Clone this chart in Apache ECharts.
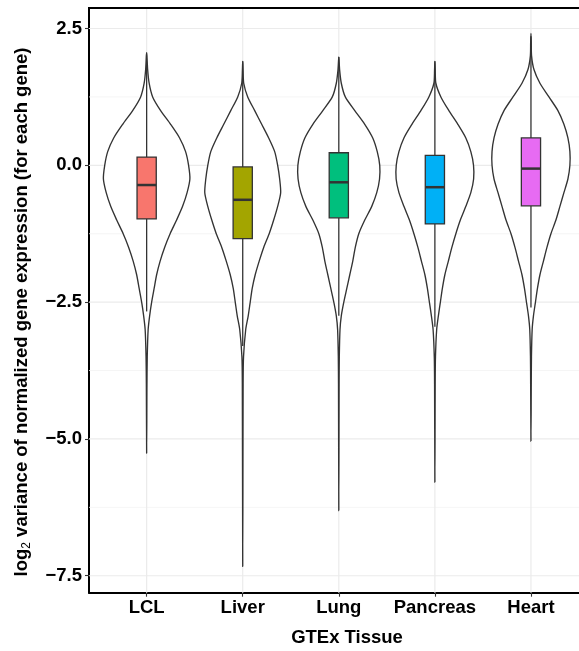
<!DOCTYPE html>
<html>
<head>
<meta charset="utf-8">
<title>GTEx tissue variance</title>
<script src="https://cdn.jsdelivr.net/npm/echarts@6/dist/echarts.min.js"></script>
<style>
  html, body { margin: 0; padding: 0; background: #fff; }
  #chart { width: 579px; height: 651px; }
</style>
</head>
<body>
<div id="chart"></div>
<script>
// categories and box colours (ggplot hue palette)
const tissues = ['LCL', 'Liver', 'Lung', 'Pancreas', 'Heart']
const boxColors = ['#F8766D', '#A3A500', '#00BF7D', '#00B0F6', '#E76BF3']

// boxplot stats
const q1 = [-0.98, -1.34, -0.96, -1.07, -0.74]
const medians = [-0.36, -0.63, -0.31, -0.40, -0.06]
const q3 = [0.15, -0.03, 0.23, 0.18, 0.50]
const whiskerLow = [-2.67, -3.30, -2.75, -2.95, -2.60]
const whiskerHigh = [1.85, 1.90, 1.98, 1.90, 2.36]
const minValues = [-5.26, -7.33, -6.31, -5.79, -5.04]
const maxValues = [2.06, 1.90, 1.98, 1.90, 2.41]

// violin density (relative), sampled at these y levels
const yLevels = [2.25, 2.0, 1.75, 1.5, 1.25, 1.0, 0.75, 0.5, 0.25, 0, -0.25, -0.5, -0.75, -1.0, -1.25, -1.5, -1.75, -2.0, -2.25, -2.5, -2.75, -3.0, -3.5, -4.0]
const densityLCL = [null, 0.3, 1, 2.5, 6, 14, 24, 33, 39, 42, 43.3, 40.5, 36, 30, 23.5, 18, 13.5, 10, 7.5, 5, 3, 1.5, 0.6, 0.3]
const densityLiver = [null, null, 0.3, 1, 5, 12, 19, 26, 32, 35, 37, 38, 35, 31, 26.5, 21, 16.5, 12.5, 9.5, 7.5, 5.5, 3, 0.8, 0.4]
const densityLung = [null, null, 0.8, 2.5, 6.5, 16, 26, 34, 38.5, 41, 40.8, 38, 33, 26, 20, 16.5, 14, 11, 8, 5, 2.5, 1.2, 0.5, 0.3]
const densityPancreas = [null, null, 0.3, 1, 6, 14, 23, 31, 36, 38.7, 38.8, 36, 31, 25.5, 21, 17, 13.5, 10, 7.5, 5.5, 3.5, 1.8, 0.6, 0.3]
const densityHeart = [0.3, 0.6, 3, 9, 18, 27, 33, 37, 39, 39, 37, 33, 29, 25, 20, 16, 12.5, 9, 6.5, 4.5, 2.5, 1.2, 0.5, 0.3]
const densities = [densityLCL, densityLiver, densityLung, densityPancreas, densityHeart]

// axis ticks
const yTicks = [-7.5, -5.0, -2.5, 0.0, 2.5]
const yMinorTicks = [-6.25, -3.75, -1.25, 1.25]
const xTicks = [1, 2, 3, 4, 5]

const densityScale = 0.45 / 43.3 // widest violin gets half-width 0.45
const boxHalf = 0.1
// the panel runs on past the right edge of the picture (ggplot's 0.4..5.6 is cut at ~5.5)
const xMin = 0.4, xMax = 5.5, yMin = -7.81, yMax = 2.875
const FONT = '"Liberation Sans", Arial, Helvetica, sans-serif'
const INK = '#333333'
const SIZE = 18.5

function violinPoints(api, i) {
  const x = i + 1
  const right = [[x, maxValues[i]]]
  yLevels.forEach((y, k) => {
    const d = densities[i][k]
    if (d == null || y >= maxValues[i] || y <= minValues[i]) return
    right.push([x + d * densityScale, y])
  })
  right.push([x, minValues[i]])
  const left = right.slice(1, -1).reverse().map(p => [2 * x - p[0], p[1]])
  return right.concat(left).map(p => api.coord(p))
}

function renderGrid(params, api) {
  const children = []
  yMinorTicks.forEach(v => {
    const a = api.coord([xMin, v]), b = api.coord([xMax, v])
    children.push({type: 'line', shape: {x1: a[0], y1: a[1], x2: b[0], y2: b[1]},
      style: {stroke: '#f2f2f2', lineWidth: 0.8}})
  })
  yTicks.forEach(v => {
    const a = api.coord([xMin, v]), b = api.coord([xMax, v])
    children.push({type: 'line', shape: {x1: a[0], y1: a[1], x2: b[0], y2: b[1]},
      style: {stroke: '#ebebeb', lineWidth: 1.2}})
  })
  xTicks.forEach(v => {
    const a = api.coord([v, yMin]), b = api.coord([v, yMax])
    children.push({type: 'line', shape: {x1: a[0], y1: a[1], x2: b[0], y2: b[1]},
      style: {stroke: '#ebebeb', lineWidth: 1.2}})
  })
  return {type: 'group', children: children}
}

function renderViolin(params, api) {
  const i = params.dataIndex
  const x = i + 1
  const top = api.coord([x - boxHalf, q3[i]])
  const bot = api.coord([x + boxHalf, q1[i]])
  const med = api.coord([x, medians[i]])
  const wHi = api.coord([x, whiskerHigh[i]])
  const wLo = api.coord([x, whiskerLow[i]])
  return {
    type: 'group',
    children: [
      {type: 'polygon', shape: {points: violinPoints(api, i), smooth: 0.25},
        style: {fill: '#fff', stroke: INK, lineWidth: 1.35}},
      {type: 'line', shape: {x1: wHi[0], y1: wHi[1], x2: wHi[0], y2: top[1]},
        style: {stroke: INK, lineWidth: 1.3}},
      {type: 'line', shape: {x1: wLo[0], y1: bot[1], x2: wLo[0], y2: wLo[1]},
        style: {stroke: INK, lineWidth: 1.3}},
      {type: 'rect', shape: {x: top[0], y: top[1], width: bot[0] - top[0], height: bot[1] - top[1]},
        style: {fill: boxColors[i], stroke: INK, lineWidth: 1.3}},
      {type: 'line', shape: {x1: top[0], y1: med[1], x2: bot[0], y2: med[1]},
        style: {stroke: INK, lineWidth: 2.5}}
    ]
  }
}

function fmt(v) {
  const s = Math.abs(v).toFixed(1)
  return v < 0 ? '\u2212' + s : s
}

const chart = echarts.init(document.getElementById('chart'))
chart.setOption({
  animation: false,
  backgroundColor: '#fff',
  grid: {left: 89, top: 8, right: 0, bottom: 58.3},
  xAxis: {
    type: 'value', min: xMin, max: xMax,
    axisLine: {show: true, onZero: false, lineStyle: {color: '#000', width: 2}},
    splitLine: {show: false},
    axisTick: {show: true, customValues: xTicks, length: 4, lineStyle: {color: INK, width: 1.1}},
    axisLabel: {customValues: xTicks, margin: 6, color: '#000', fontFamily: FONT,
      fontWeight: 'bold', fontSize: SIZE, formatter: v => tissues[Math.round(v) - 1] || ''}
  },
  yAxis: {
    type: 'value', min: yMin, max: yMax,
    axisLine: {show: true, onZero: false, lineStyle: {color: '#000', width: 2}},
    splitLine: {show: false},
    axisTick: {show: true, customValues: yTicks, length: 4, lineStyle: {color: INK, width: 1.1}},
    axisLabel: {customValues: yTicks, margin: 7, color: '#000', fontFamily: FONT,
      fontWeight: 'bold', fontSize: SIZE, formatter: v => fmt(v)}
  },
  graphic: [
    // top border of the panel
    {type: 'line', z: 10, shape: {x1: 88, y1: 8, x2: 579, y2: 8},
      style: {stroke: '#000', lineWidth: 2}},
    {type: 'text', x: 347, y: 638, style: {text: 'GTEx Tissue', fill: '#000',
      font: 'bold ' + SIZE + 'px ' + FONT, align: 'center', verticalAlign: 'middle'}},
    {type: 'text', x: 22, y: 312, rotation: Math.PI / 2, style: {
      text: '{a|log}{s|2}{a| variance of normalized gene expression (for each gene)}',
      align: 'center', verticalAlign: 'middle',
      rich: {
        a: {fontFamily: FONT, fontWeight: 'bold', fontSize: SIZE, fill: '#000', lineHeight: 24},
        s: {fontFamily: FONT, fontSize: 12, fill: '#000', lineHeight: 24, padding: [10, 0, 0, 0]}
      }
    }}
  ],
  series: [
    {type: 'custom', z: 1, silent: true, renderItem: renderGrid, data: [[0, 0]]},
    {type: 'custom', z: 2, renderItem: renderViolin,
      data: tissues.map((t, i) => [i + 1, medians[i]])}
  ]
})
</script>
</body>
</html>
